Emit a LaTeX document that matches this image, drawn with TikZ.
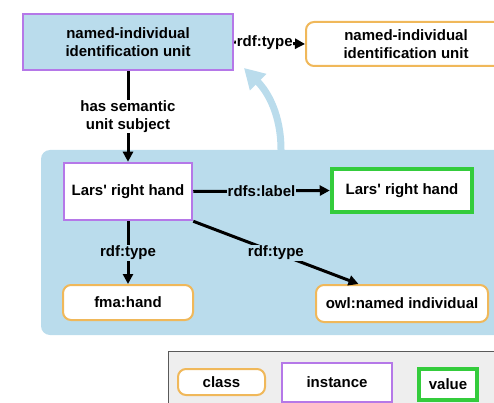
\documentclass[tikz,border=0pt]{standalone}
\usepackage{fontspec}
\setmainfont{Liberation Sans}
\usetikzlibrary{arrows.meta}
\usetikzlibrary{calc}
\definecolor{panelblue}{RGB}{186,220,236}
\definecolor{instpurple}{RGB}{181,120,232}
\definecolor{classorange}{RGB}{240,184,90}
\definecolor{valuegreen}{RGB}{52,204,60}
\definecolor{legendgray}{RGB}{238,238,238}
\tikzset{
  instancebox/.style={draw=instpurple,line width=2.5pt,fill=white,align=center,inner sep=0pt},
  classbox/.style={draw=classorange,line width=2pt,fill=white,rounded corners=8pt,align=center,inner sep=0pt},
  valuebox/.style={draw=valuegreen,line width=4.5pt,fill=white,align=center,inner sep=0pt},
  rel/.style={line width=3pt,-{Triangle[length=10pt,width=10pt]}},
  rellabel/.style={fill=white,inner sep=1pt,align=center},
}

\begin{document}
\begin{tikzpicture}[x=1pt,y=-1pt,font=\bfseries\fontsize{15}{17.5}\selectfont]
  \useasboundingbox (0,0) rectangle (494,403);
  \clip (0,0) rectangle (494,403);
  % panels
  \fill[panelblue,rounded corners=9pt] (41,150) rectangle (520,335);
  \draw[gray!70!black,fill=legendgray,line width=1pt] (168,351) rectangle (520,430);

  % top row
  \node[instancebox,fill=panelblue,minimum width=210pt,minimum height=56pt] (niu) at (128,42) {named-individual\\identification unit};
  \node[classbox,minimum width=200pt,minimum height=44pt] (niuclass) at (406,44) {named-individual\\identification unit};

  % inside the panel
  \node[instancebox,minimum width=128pt,minimum height=57pt] (hand) at (128,191.5) {Lars\textquotesingle\ right hand};
  \node[valuebox,minimum width=140pt,minimum height=43pt] (handlabel) at (402,190.5) {Lars\textquotesingle\ right hand};
  \node[classbox,minimum width=130pt,minimum height=35pt] (fmahand) at (128,302.5) {fma:hand};
  \node[classbox,minimum width=172pt,minimum height=37pt] (owlni) at (402,303.5) {owl:named individual};

  % legend
  \node[classbox,minimum width=87pt,minimum height=26pt] (legclass) at (221.5,382) {class};
  \node[instancebox,minimum width=110pt,minimum height=39pt] (leginst) at (337,382.5) {instance};
  \node[valuebox,minimum width=58pt,minimum height=31pt] (legvalue) at (448,384.5) {value};

  % relations
  \draw[rel] (niu.east) -- node[rellabel,inner sep=0.5pt,pos=0.43] {rdf:type} (niuclass.west);
  \draw[rel] (niu.south) -- node[rellabel] {has semantic\\unit subject} (hand.north);
  \draw[rel] (hand.east) -- node[rellabel,fill=panelblue] {rdfs:label} (handlabel.west);
  \draw[rel] (hand.south) -- node[rellabel,fill=panelblue] {rdf:type} (fmahand.north);
  \coordinate (owltop) at ($(owlni.north west)!0.25!(owlni.north east)$);
  \draw[rel] (hand.south east) -- node[rellabel,fill=panelblue] {rdf:type} (owltop);

  % big curved arrow
  \coordinate (loopstart) at (281,150);
  \coordinate (looptip) at (244,68);
  \draw[panelblue,line width=7pt,-{Triangle[length=20pt,width=22pt]}]
    (loopstart) .. controls (281,115) and (268,92) .. (looptip);
\end{tikzpicture}
\end{document}
